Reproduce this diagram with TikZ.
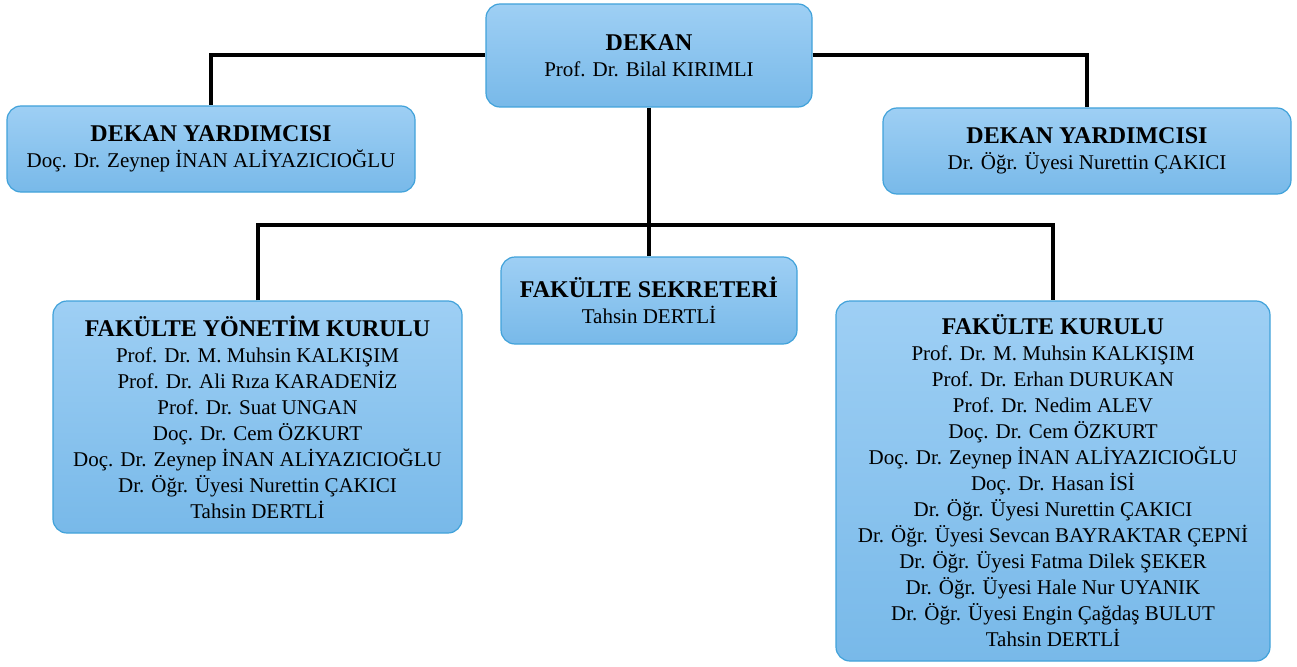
\documentclass[tikz,border=0pt]{standalone}
\usepackage{fontspec}
\setmainfont{Liberation Serif}
\definecolor{boxtop}{HTML}{9ECFF4}
\definecolor{boxbot}{HTML}{78B9E9}
\definecolor{boxline}{HTML}{41A2DA}
\newcommand{\unvan}[1]{{\fontsize{24}{28}\selectfont\bfseries #1}}
\tikzset{
  unitbox/.style={draw=boxline, line width=1.2pt, rounded corners=14pt,
    top color=boxtop, bottom color=boxbot, align=center, inner sep=0pt,
    font=\fontsize{21}{26}\selectfont},
  link/.style={line width=4pt}
}
\begin{document}
\begin{tikzpicture}[x=1pt,y=-1pt]
    \useasboundingbox (0,0) rectangle (1297,666);
    \node[unitbox, minimum width=326pt, minimum height=103pt] (dekan) at (649,55.5)
        {\unvan{DEKAN}\\Prof. Dr. Bilal KIRIMLI};
    \node[unitbox, minimum width=408pt, minimum height=86pt] (dyl) at (211,149)
        {\unvan{DEKAN YARDIMCISI}\\Doç. Dr. Zeynep İNAN ALİYAZICIOĞLU};
    \node[unitbox, minimum width=408pt, minimum height=86pt] (dyr) at (1087,151)
        {\unvan{DEKAN YARDIMCISI}\\Dr. Öğr. Üyesi Nurettin ÇAKICI};
    \node[unitbox, minimum width=296pt, minimum height=87pt] (sekreter) at (649,300.5)
        {\unvan{FAKÜLTE SEKRETERİ}\\Tahsin DERTLİ};
    \node[unitbox, minimum width=409pt, minimum height=232pt] (fyk) at (257.5,417)
        {\unvan{FAKÜLTE YÖNETİM KURULU}\\
         Prof. Dr. M. Muhsin KALKIŞIM\\
         Prof. Dr. Ali Rıza KARADENİZ\\
         Prof. Dr. Suat UNGAN\\
         Doç. Dr. Cem ÖZKURT\\
         Doç. Dr. Zeynep İNAN ALİYAZICIOĞLU\\
         Dr. Öğr. Üyesi Nurettin ÇAKICI\\
         Tahsin DERTLİ};
    \node[unitbox, minimum width=434pt, minimum height=360pt] (fk) at (1053,481)
        {\unvan{FAKÜLTE KURULU}\\
         Prof. Dr. M. Muhsin KALKIŞIM\\
         Prof. Dr. Erhan DURUKAN\\
         Prof. Dr. Nedim ALEV\\
         Doç. Dr. Cem ÖZKURT\\
         Doç. Dr. Zeynep İNAN ALİYAZICIOĞLU\\
         Doç. Dr. Hasan İSİ\\
         Dr. Öğr. Üyesi Nurettin ÇAKICI\\
         Dr. Öğr. Üyesi Sevcan BAYRAKTAR ÇEPNİ\\
         Dr. Öğr. Üyesi Fatma Dilek ŞEKER\\
         Dr. Öğr. Üyesi Hale Nur UYANIK\\
         Dr. Öğr. Üyesi Engin Çağdaş BULUT\\
         Tahsin DERTLİ};
    % baglantilar
    \coordinate (kol) at (649,225);
    \draw[link] (dekan.west) -| (dyl.north);
    \draw[link] (dekan.east) -| (dyr.north);
    \draw[link] (dekan.south) -- (sekreter.north);
    \draw[link] (fyk.north) |- (kol) -| (fk.north);
\end{tikzpicture}
\end{document}
